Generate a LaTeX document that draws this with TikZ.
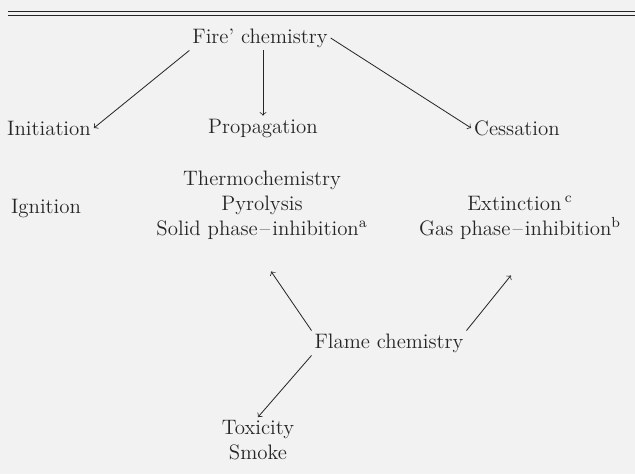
\documentclass[tikz,border=0pt]{standalone}
\usepackage{tikz}
\newcommand{\inkcolor}{black!85}
\newcommand{\papercolor}{black!5}
\newcommand{\supmark}[1]{$^{\mathrm{#1}}$}
\newcommand{\phasedash}{\kern1.2pt--\kern1.2pt}

\begin{document}
\begin{tikzpicture}[x=0.55pt,y=-0.55pt,
   lbl/.style={text=\inkcolor, inner sep=1.5pt, align=center, font=\fontsize{11.5}{13.75}\selectfont},
   arr/.style={->, draw=\inkcolor, line width=0.45pt}]

 \fill[\papercolor] (0,0) rectangle (635,474);
 \useasboundingbox (0,0) rectangle (635,474);
   \draw[\inkcolor, line width=0.5pt] (8,11) -- (635,11);
   \draw[\inkcolor, line width=0.5pt] (8,15) -- (635,15);

   \node[lbl] (fire) at (260,38) {Fire' chemistry};
   \node[lbl] (init) at (49,128) {Initiation};
   \node[lbl] (prop) at (263,128) {Propagation};
   \node[lbl] (cess) at (517,128) {Cessation};
   \node[lbl] (ign) at (46,208) {Ignition};
   \node[lbl] (solid) at (262,205) {Thermochemistry\\Pyrolysis\\Solid phase\phasedash inhibition\supmark{a}};
   \node[lbl] (ext) at (520,218) {Extinction\,\supmark{c}\\Gas phase\phasedash inhibition\supmark{b}};
   \node[lbl] (flame) at (389,343) {Flame chemistry};
   \node[lbl] (tox) at (258,440) {Toxicity\\Smoke};

   \draw[arr] (fire.south west) -- (init.east);
   \draw[arr] (fire.south -| prop.north) -- (prop.north);
   \draw[arr] (fire.east) -- (cess.west);
   \draw[arr] (flame.north west) -- ([xshift=5pt,yshift=-16pt]solid.south);
   \draw[arr] (flame.north east) -- ([xshift=-5pt,yshift=-18pt]ext.south);
   \draw[arr] (flame.south west) -- (tox.north);

 \end{tikzpicture}
\end{document}
